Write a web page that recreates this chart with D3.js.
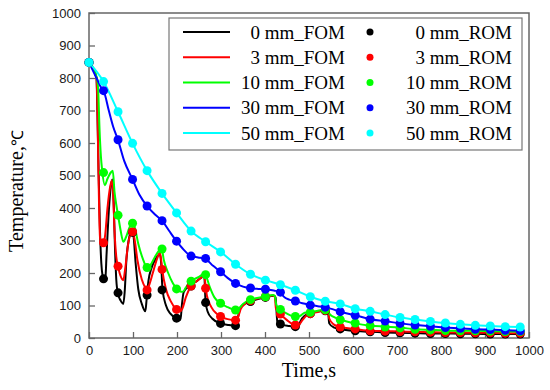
<!DOCTYPE html>
<html>
<head>
<meta charset="utf-8">
<script src="https://cdn.jsdelivr.net/npm/d3@7/dist/d3.min.js"></script>
<style>
    body { margin: 0; background: #ffffff; }
</style>
</head>
<body>
<div id="chart"></div>
<script>

// ROM sampling times (s) and temperatures (degC)
let romTime  = [0, 33, 66, 99, 132, 166, 199, 232, 265, 299, 333, 367, 401, 435, 469, 503, 537, 571, 605, 639, 673, 707, 741, 776, 810, 844, 878, 912, 946, 980];
let rom0mm   = [848, 182, 139, 325, 132, 148, 61, 160, 109, 45, 38, 112, 125, 43, 35, 75, 84, 28, 22, 19, 17, 16, 15, 14, 14, 13, 13, 12, 12, 12];
let rom3mm   = [848, 293, 221, 327, 148, 211, 88, 160, 153, 66, 55, 115, 127, 74, 40, 75, 85, 34, 28, 22, 21, 20, 19, 18, 17, 17, 16, 16, 15, 15];
let rom10mm  = [848, 509, 378, 353, 217, 274, 151, 175, 195, 107, 86, 118, 127, 88, 66, 79, 87, 56, 46, 38, 34, 31, 27, 25, 23, 22, 22, 21, 20, 20];
let rom30mm  = [848, 761, 610, 488, 406, 361, 298, 252, 245, 204, 168, 154, 150, 141, 114, 101, 95, 81, 70, 58, 52, 45, 40, 36, 32, 30, 27, 26, 24, 22];
let rom50mm  = [848, 789, 696, 599, 515, 445, 385, 329, 296, 265, 227, 196, 178, 164, 147, 127, 113, 105, 90, 82, 72, 63, 57, 51, 46, 42, 39, 37, 35, 34];

// FOM curves as [time, temperature] pairs
let fom0mm = [[0,848],[17,800],[19,700],[22,500],[25,330],[28,230],[31,190],[34,175],[37,180],[40,260],[45,390],[50,470],[53,488],[56,420],[59,280],[62,180],[66,135],[72,115],[78,105],[81,140],[85,240],[90,300],[97,328],[101,315],[106,230],[112,150],[120,105],[128,82],[131,120],[135,175],[142,215],[152,245],[161,258],[164,230],[167,150],[175,100],[185,75],[199,61],[208,56],[211,100],[215,140],[225,158],[245,175],[262,190],[265,110],[270,80],[280,60],[299,45],[318,40],[335,37],[338,60],[345,95],[355,106],[367,113],[401,125],[420,130],[424,125],[428,50],[435,42],[455,37],[469,35],[476,34],[480,50],[490,68],[503,75],[537,84],[543,84],[546,45],[556,33],[571,28],[605,22],[639,19],[673,17],[707,16],[741,15],[776,14],[810,14],[844,13],[878,13],[912,12],[946,12],[980,12]];
let fom3mm = [[0,848],[17,800],[19,720],[21,550],[23,400],[25,310],[28,285],[33,290],[37,320],[42,400],[48,465],[52,485],[55,440],[58,330],[62,250],[66,221],[72,190],[78,178],[82,210],[88,280],[94,320],[99,330],[104,300],[110,240],[120,180],[128,155],[132,148],[136,160],[145,200],[155,245],[161,262],[164,240],[167,205],[175,150],[185,115],[199,88],[207,82],[212,90],[220,125],[232,160],[245,175],[262,190],[265,160],[268,130],[278,95],[290,75],[299,66],[315,58],[333,55],[338,62],[345,90],[355,105],[367,115],[385,122],[401,127],[418,131],[422,128],[425,90],[435,74],[450,55],[469,40],[476,40],[485,55],[495,70],[503,76],[520,80],[537,86],[543,86],[546,60],[556,42],[571,34],[605,28],[639,22],[673,21],[707,20],[741,19],[776,18],[810,17],[844,17],[878,16],[912,16],[946,15],[980,15]];
let fom10mm = [[0,848],[18,800],[21,760],[24,640],[27,560],[30,515],[36,470],[42,490],[50,510],[54,515],[58,450],[62,410],[66,378],[72,330],[78,296],[84,310],[92,340],[99,353],[104,340],[112,290],[122,245],[132,217],[140,225],[150,250],[160,270],[165,275],[170,240],[180,200],[190,170],[199,152],[207,143],[213,142],[220,155],[232,175],[250,188],[262,198],[266,190],[275,155],[285,125],[299,107],[315,95],[333,86],[340,90],[350,105],[367,118],[385,124],[401,127],[418,132],[422,130],[426,100],[435,88],[450,75],[469,66],[478,67],[490,78],[503,80],[520,84],[537,88],[543,88],[546,75],[556,65],[571,57],[605,45],[639,38],[673,35],[707,32],[741,27],[776,25],[810,23],[844,22],[878,22],[912,21],[946,20],[980,20]];
let fom30mm = [[0,848],[17,800],[30,765],[33,761],[45,700],[55,650],[66,609],[80,545],[99,488],[115,440],[132,406],[150,380],[166,361],[182,330],[199,298],[215,272],[232,252],[248,248],[265,243],[282,222],[299,204],[315,185],[333,168],[350,158],[367,153],[385,151],[401,150],[420,146],[435,141],[442,128],[455,118],[469,114],[485,107],[503,102],[520,98],[537,95],[555,88],[571,81],[605,70],[639,58],[673,52],[707,45],[741,40],[776,36],[810,32],[844,30],[878,27],[912,26],[946,24],[980,22]];
let fom50mm = [[0,848],[33,789],[66,696],[99,599],[132,515],[166,445],[199,385],[232,329],[265,296],[299,265],[333,227],[367,196],[401,178],[435,164],[469,147],[503,127],[537,113],[571,105],[605,90],[639,82],[673,72],[707,63],[741,57],[776,51],[810,46],[844,42],[878,39],[912,37],[946,35],[980,34]];

let seriesNames  = ['0 mm', '3 mm', '10 mm', '30 mm', '50 mm'];
let seriesColors = ['#000000', '#ff0000', '#00ff00', '#0000ff', '#00ffff'];
let xTickValues  = [0, 100, 200, 300, 400, 500, 600, 700, 800, 900, 1000];
let yTickValues  = [0, 100, 200, 300, 400, 500, 600, 700, 800, 900, 1000];

let serifFont = "'Liberation Serif', 'Times New Roman', serif";
let sansFont = "'Liberation Sans', Arial, sans-serif";

/** Draws the FOM / ROM cooling curves */
class CoolingChart {

    constructor() {
        this.width = 550;
        this.height = 390;
        this.margin = {left: 89, right: 21, top: 13, bottom: 52};
        this.plotW = this.width - this.margin.left - this.margin.right;
        this.plotH = this.height - this.margin.top - this.margin.bottom;

        this.svg = d3.select('#chart')
            .append('svg')
            .attr('width', this.width)
            .attr('height', this.height)
            .style('background', '#ffffff')
        ;
        this.g = this.svg.append('g')
            .attr('transform', `translate(${this.margin.left}, ${this.margin.top})`)
        ;
        this.x = d3.scaleLinear().domain([0, 1000]).range([0, this.plotW]);
        this.y = d3.scaleLinear().domain([0, 1000]).range([this.plotH, 0]);

        this.fom = [fom0mm, fom3mm, fom10mm, fom30mm, fom50mm];
        this.rom = [rom0mm, rom3mm, rom10mm, rom30mm, rom50mm];

        this.drawAxes();
        this.drawCurves();
        this.drawLegend();
    }

    drawAxes() {
        let frameColor = '#666666';
        // x axis, ticks point inward
        let xAxis = this.g.append('g')
            .attr('transform', `translate(0, ${this.plotH})`)
            .call(d3.axisBottom(this.x).tickValues(xTickValues).tickFormat(d3.format('d'))
                .tickSizeInner(-6).tickSizeOuter(0).tickPadding(8))
        ;
        let yAxis = this.g.append('g')
            .call(d3.axisLeft(this.y).tickValues(yTickValues).tickFormat(d3.format('d'))
                .tickSizeInner(-6).tickSizeOuter(0).tickPadding(8))
        ;
        [xAxis, yAxis].forEach(ax => {
            ax.select('.domain').remove();
            ax.selectAll('line').attr('stroke', frameColor).attr('stroke-width', 1.3);
            ax.selectAll('text')
                .style('font-family', sansFont)
                .style('font-size', '13px')
                .attr('fill', '#1a1a1a')
            ;
        });
        // frame around the plot area
        this.g.append('rect')
            .attr('x', 0)
            .attr('y', 0)
            .attr('width', this.plotW)
            .attr('height', this.plotH)
            .attr('fill', 'none')
            .attr('stroke', frameColor)
            .attr('stroke-width', 1.5)
        ;
        // axis titles
        this.svg.append('text')
            .text('Time,s')
            .style('font-family', serifFont)
            .style('font-size', '20px')
            .attr('text-anchor', 'middle')
            .attr('x', this.margin.left + this.plotW / 2)
            .attr('y', 377)
        ;
        let yTitle = this.svg.append('text')
            .style('font-family', serifFont)
            .style('font-size', '20px')
            .attr('text-anchor', 'middle')
            .attr('transform', 'translate(23, 191) rotate(-90)')
        ;
        yTitle.append('tspan').text('Temperature,');
        yTitle.append('tspan').text('℃').style('font-size', '16px');
    }

    drawCurves() {
        let thiss = this;
        let line = d3.line()
            .x(d => thiss.x(d[0]))
            .y(d => thiss.y(d[1]))
            .curve(d3.curveMonotoneX)
        ;
        // all FOM lines first, ROM markers on top
        this.g.selectAll('.fom')
            .data(this.fom)
            .enter()
            .append('path')
            .attr('class', 'fom')
            .attr('d', d => line(d))
            .attr('fill', 'none')
            .attr('stroke', (d, i) => seriesColors[i])
            .attr('stroke-width', 2)
            .attr('stroke-linejoin', 'round')
        ;
        this.rom.forEach((vals, i) => {
            this.g.selectAll('.rom' + i)
                .data(vals)
                .enter()
                .append('circle')
                .attr('class', 'rom' + i)
                .attr('cx', (d, k) => thiss.x(romTime[k]))
                .attr('cy', d => thiss.y(d))
                .attr('r', 4.5)
                .attr('fill', seriesColors[i])
            ;
        });
    }

    drawLegend() {
        let lx = 169, ly = 18, lw = 353, lh = 132;
        let rowY = [32, 57.3, 82.5, 107.8, 133];
        this.svg.append('rect')
            .attr('x', lx)
            .attr('y', ly)
            .attr('width', lw)
            .attr('height', lh)
            .attr('fill', '#ffffff')
            .attr('stroke', '#777777')
            .attr('stroke-width', 1.2)
        ;
        let rows = this.svg.selectAll('.legRow')
            .data(seriesNames)
            .enter()
            .append('g')
            .attr('class', 'legRow')
            .attr('transform', (d, i) => `translate(0, ${rowY[i]})`)
        ;
        rows.append('line')
            .attr('x1', 183)
            .attr('x2', 230)
            .attr('y1', 0)
            .attr('y2', 0)
            .attr('stroke', (d, i) => seriesColors[i])
            .attr('stroke-width', 2)
        ;
        rows.append('circle')
            .attr('cx', 370)
            .attr('cy', 0)
            .attr('r', 3.5)
            .attr('fill', (d, i) => seriesColors[i])
        ;
        rows.append('text')
            .text(d => d + '_FOM')
            .attr('x', 345)
            .attr('y', 6.5)
            .attr('text-anchor', 'end')
            .style('font-family', serifFont)
            .style('font-size', '19px')
        ;
        rows.append('text')
            .text(d => d + '_ROM')
            .attr('x', 512)
            .attr('y', 6.5)
            .attr('text-anchor', 'end')
            .style('font-family', serifFont)
            .style('font-size', '19px')
        ;
    }
}

new CoolingChart();
</script>
</body>
</html>
